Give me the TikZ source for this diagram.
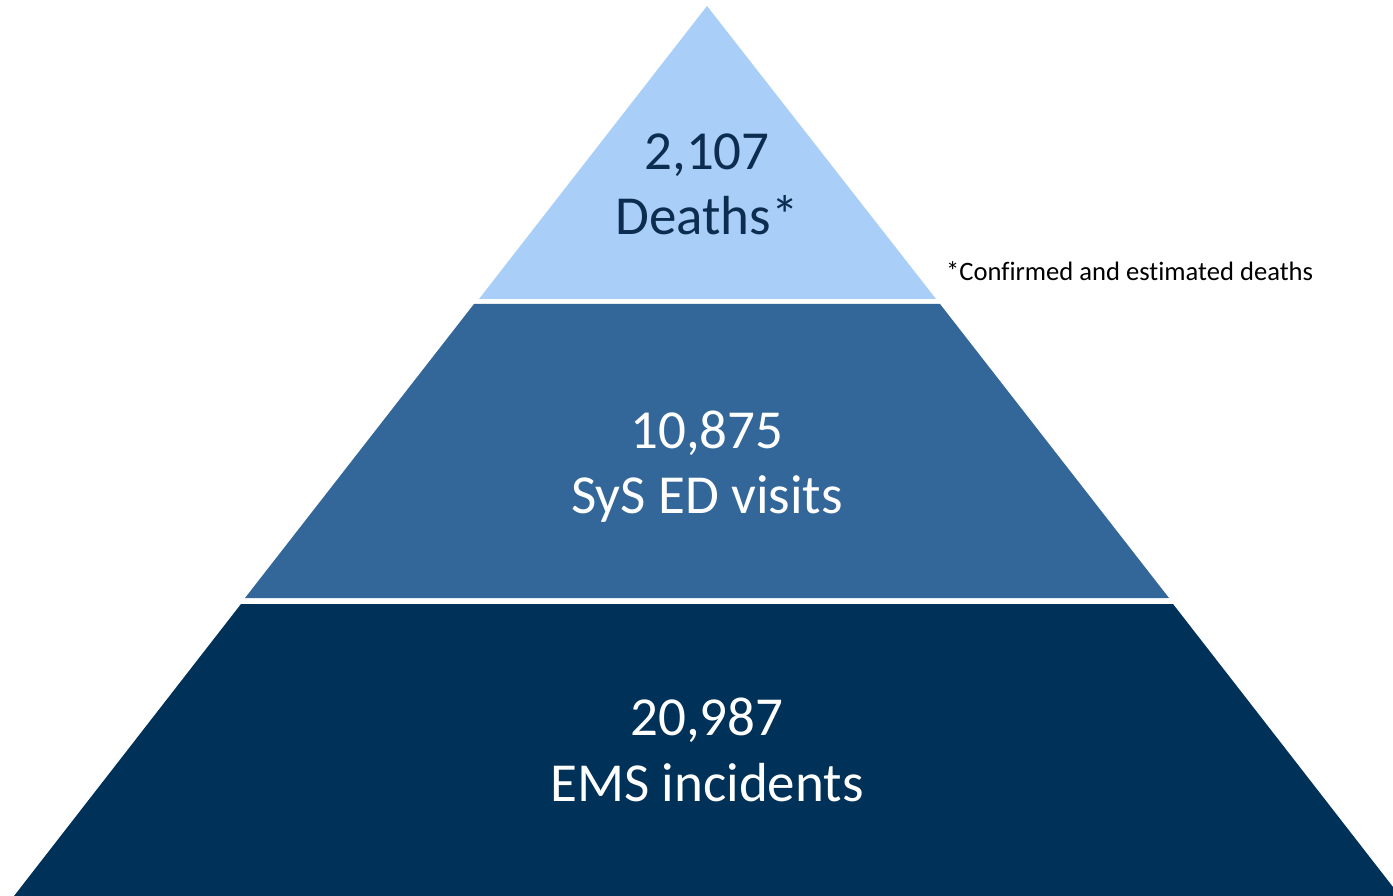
\documentclass[tikz,border=0pt]{standalone}
\usepackage{fontspec}
\setmainfont{Carlito}[Ligatures=NoCommon]
\definecolor{topblue}{RGB}{169,206,248}
\definecolor{midblue}{RGB}{51,103,153}
\definecolor{botblue}{RGB}{0,49,88}
\definecolor{darktext}{RGB}{12,45,80}
\tikzset{
  bigtext/.style={anchor=base, inner sep=0pt, font=\fontsize{55}{66}\selectfont},
  notetext/.style={anchor=base west, inner sep=0pt, font=\fontsize{26.6}{32}\selectfont, text=black}
}
\begin{document}
\begin{tikzpicture}[x=1pt,y=-1pt]
\useasboundingbox (0,0) rectangle (1393,896);
\fill[white] (0,0) rectangle (1393,896);
% tiers
\fill[topblue] (707,6) -- (936,299) -- (479,299) -- cycle;
\fill[midblue] (474,304) -- (940,304) -- (1169,598) -- (245,598) -- cycle;
\fill[botblue] (241,604) -- (1173,604) -- (1400,896) -- (14,896) -- cycle;
% labels
\node[bigtext, text=darktext] (n1) at (707,170) {2,107};
\node[bigtext, text=darktext] (l1) at (707,235) {Deaths*};
\node[bigtext, text=white] (n2) at (707,448) {10,875};
\node[bigtext, text=white] (l2) at (707,513) {SyS ED visits};
\node[bigtext, text=white] (n3) at (707,735) {20,987};
\node[bigtext, text=white] (l3) at (707,801) {EMS incidents};
\node[notetext] (note) at (946,280) {*Confirmed and estimated deaths};
\end{tikzpicture}
\end{document}
